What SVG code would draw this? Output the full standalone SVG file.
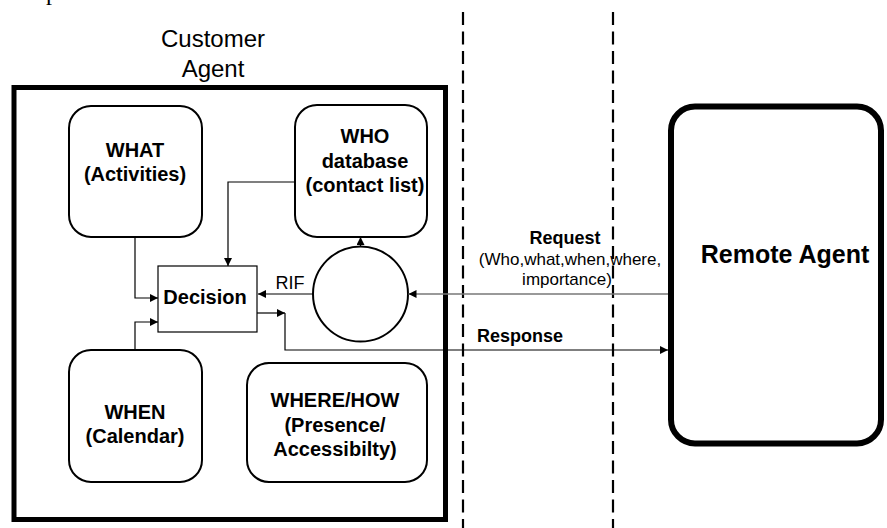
<svg xmlns="http://www.w3.org/2000/svg" width="887" height="528" viewBox="0 0 887 528">
<style>
.node{fill:#fff;stroke:#000;stroke-width:2}
.b{font-family:"Liberation Sans",Arial,sans-serif;font-weight:bold;font-size:20px;text-anchor:middle;fill:#000}
.r{font-family:"Liberation Sans",Arial,sans-serif;font-size:17px;text-anchor:middle;fill:#000}
.c{fill:none;stroke:#000;stroke-width:1.2}
.dash{fill:none;stroke:#000;stroke-width:2.2;stroke-dasharray:13 6.5}
</style>
<defs>
<marker id="ah" viewBox="0 0 10 10" refX="10" refY="5" markerWidth="8" markerHeight="8" markerUnits="userSpaceOnUse" orient="auto">
<path d="M0,0 L10,5 L0,10 z" fill="#000"/>
</marker>
</defs>
<rect width="887" height="528" fill="#fff"/>
<text x="46" y="0" font-family="Liberation Serif,serif" font-size="24">p</text>
<g id="dividers">
<line class="dash" x1="463" y1="12" x2="463" y2="528"/>
<line class="dash" x1="613" y1="12" x2="613" y2="528"/>
</g>
<g id="customer-agent">
<text class="r" style="font-size:24px" x="213" y="47">Customer</text>
<text class="r" style="font-size:24px" x="213" y="77">Agent</text>
<rect x="14" y="87.5" width="431.5" height="432" fill="none" stroke="#000" stroke-width="5"/>
</g>
<g id="what">
<rect class="node" x="69" y="106" width="133" height="131" rx="22"/>
<text class="b" x="135" y="157">WHAT</text>
<text class="b" x="135" y="181">(Activities)</text>
</g>
<g id="who">
<rect class="node" x="295" y="105" width="132" height="132" rx="22"/>
<text class="b" x="365" y="143">WHO</text>
<text class="b" x="365" y="168">database</text>
<text class="b" x="365" y="192">(contact list)</text>
</g>
<g id="when">
<rect class="node" x="69" y="350" width="133" height="132" rx="22"/>
<text class="b" x="135" y="419">WHEN</text>
<text class="b" x="135" y="443">(Calendar)</text>
</g>
<g id="wherehow">
<rect class="node" x="247" y="363" width="180" height="119" rx="22"/>
<text class="b" x="335" y="407">WHERE/HOW</text>
<text class="b" x="335" y="432">(Presence/</text>
<text class="b" x="335" y="456">Accessibilty)</text>
</g>
<g id="decision">
<rect x="158" y="266" width="99" height="66" fill="#fff" stroke="#000" stroke-width="1.2"/>
<text class="b" x="205" y="304">Decision</text>
</g>
<g id="rif-circle">
<circle cx="360.5" cy="294" r="47.5" fill="#fff" stroke="#000" stroke-width="2"/>
</g>
<g id="remote-agent">
<rect x="671" y="106.5" width="210" height="337" rx="24" fill="#fff" stroke="#000" stroke-width="6"/>
<text class="b" style="font-size:25px" x="785" y="263">Remote Agent</text>
</g>
<g id="connectors">
<path class="c" d="M135,237 V298 H158" marker-end="url(#ah)"/>
<path class="c" d="M135,350 V322 H158" marker-end="url(#ah)"/>
<path class="c" d="M295,182 H228 V266" marker-end="url(#ah)"/>
<path class="c" d="M360.5,246.5 V237" marker-end="url(#ah)"/>
<path class="c" d="M313,294 H258" marker-end="url(#ah)"/>
<text class="r" style="font-size:18px" x="290" y="289">RIF</text>
<path class="c" d="M257,313 H285" marker-end="url(#ah)"/>
<path class="c" d="M285,313 V350 H668" marker-end="url(#ah)"/>
<path d="M668,294 H408.5" fill="none" stroke="#777" stroke-width="1.5" marker-end="url(#ah)"/>
<text class="b" style="font-size:18px" x="565" y="244">Request</text>
<text class="r" x="570" y="265">(Who,what,when,where,</text>
<text class="r" x="567" y="285">importance)</text>
<text class="b" style="font-size:18px" x="520" y="342">Response</text>
</g>
</svg>
